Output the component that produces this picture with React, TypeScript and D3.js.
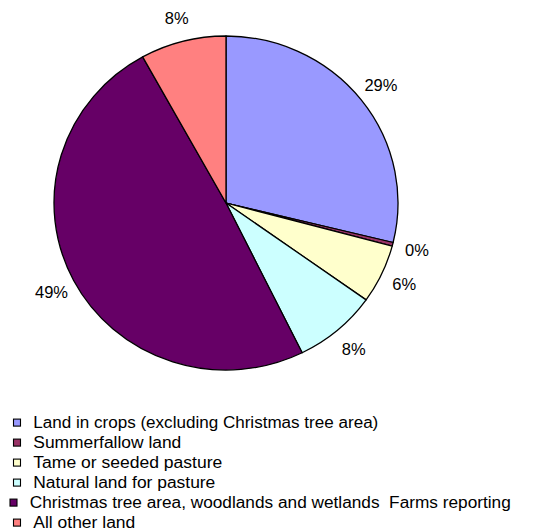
import * as d3 from "d3";
import React, { useEffect, useRef } from "react";

const categories = [
  "Land in crops (excluding Christmas tree area)",
  "Summerfallow land",
  "Tame or seeded pasture",
  "Natural land for pasture",
  "Christmas tree area, woodlands and wetlands  Farms reporting",
  "All other land",
];
const shares = [28.8, 0.35, 5.7, 7.85, 49.25, 8.05];
const percentLabels = ["29%", "0%", "6%", "8%", "49%", "8%"];
const colors = ["#9999FF", "#993366", "#FFFFCC", "#CCFFFF", "#660066", "#FF8080"];
// measured text widths of the legend lines
const legendWidths = [345, 148, 189, 182, 481, 102];

const App = () => {
  const svgRef = useRef<SVGSVGElement>(null);

  useEffect(() => {
    const width = 543,
      height = 531,
      cx = 226,
      cy = 203,
      radius = 172,
      squash = 167 / 172,
      labelRadius = 197;

    const svg = d3.select(svgRef.current);
    svg.selectAll("*").remove();

    svg.attr("width", width).attr("height", height);

    const data = categories.map((c, i) => ({
      name: c,
      value: shares[i],
      label: percentLabels[i],
      color: colors[i],
    }));

    const pie = d3
      .pie<any>()
      .sort(null)
      .value((d) => d.value);
    const arcs = pie(data);

    const arc = d3.arc<any>().innerRadius(0).outerRadius(radius);
    const labelArc = d3.arc<any>().innerRadius(labelRadius).outerRadius(labelRadius);

    const g = svg
      .append("g")
      .attr("transform", `translate(${cx},${cy}) scale(1,${squash})`);

    g.selectAll("path")
      .data(arcs)
      .enter()
      .append("path")
      .attr("d", arc)
      .attr("fill", (d) => d.data.color)
      .attr("stroke", "#000")
      .attr("stroke-width", 1.3)
      .attr("stroke-linejoin", "round");

    svg
      .append("g")
      .attr("transform", `translate(${cx},${cy})`)
      .selectAll("text")
      .data(arcs)
      .enter()
      .append("text")
      .attr("x", (d) => labelArc.centroid(d)[0])
      .attr("y", (d) => labelArc.centroid(d)[1] * squash)
      .attr("dy", "0.36em")
      .attr("text-anchor", "middle")
      .style("font-family", "'Liberation Sans', Arial, sans-serif")
      .style("font-size", "16.5px")
      .style("fill", "#000")
      .text((d) => d.data.label);

    const legend = svg.append("g");
    const rows = legend
      .selectAll("g")
      .data(data)
      .enter()
      .append("g")
      .attr("transform", (d, i) => `translate(${i === 4 ? -3.5 : 0},${421.7 + i * 20})`);

    rows
      .append("rect")
      .attr("x", 13.5)
      .attr("y", -2.6)
      .attr("width", 7)
      .attr("height", 7)
      .attr("fill", (d) => d.color)
      .attr("stroke", "#000")
      .attr("stroke-width", 1.1);

    rows
      .append("text")
      .attr("x", 33.3)
      .attr("y", 5.8)
      .attr("textLength", (d, i) => legendWidths[i])
      .attr("lengthAdjust", "spacingAndGlyphs")
      .style("white-space", "pre")
      .style("font-family", "'Liberation Sans', Arial, sans-serif")
      .style("font-size", "16px")
      .style("fill", "#000")
      .text((d) => d.name);
  }, []);

  return (
    <div style={{ position: "fixed", left: 0, top: 0, background: "#fff" }}>
      <svg ref={svgRef} style={{ display: "block" }}></svg>
    </div>
  );
};

export default App;
